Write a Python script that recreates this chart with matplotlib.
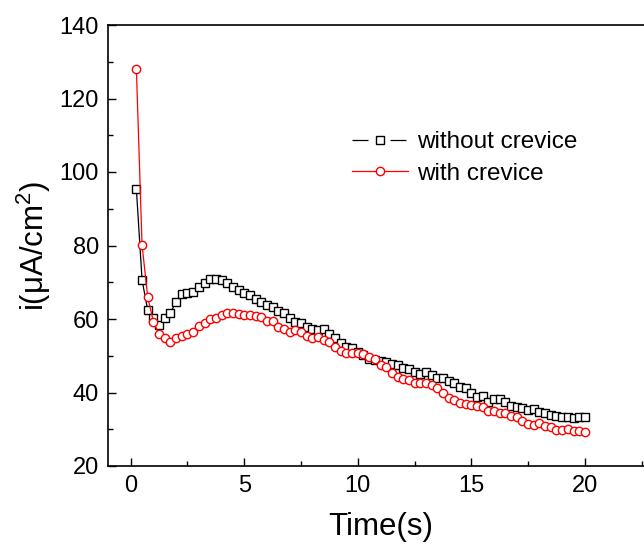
import numpy as np
import matplotlib
matplotlib.use('Agg')
import matplotlib.pyplot as plt
from matplotlib.lines import Line2D
from matplotlib.ticker import MultipleLocator

plt.rcParams['font.family'] = ['Liberation Sans', 'DejaVu Sans']
plt.rcParams['mathtext.fontset'] = 'custom'
plt.rcParams['mathtext.rm'] = 'Liberation Sans'
plt.rcParams['mathtext.it'] = 'Liberation Sans:italic'

# time axis, one reading every 0.25 s
time_s = np.arange(1, 81) * 0.25

without_crevice = [
    95.3, 70.6, 62.4, 60.2, 58.3, 60.2, 61.7, 64.7, 66.8, 67.0,
    67.4, 68.8, 69.9, 71.0, 70.8, 70.6, 69.9, 68.6, 68.0, 67.0,
    66.5, 65.4, 64.7, 63.8, 63.3, 62.2, 61.7, 60.4, 59.3, 58.8,
    57.9, 57.2, 57.0, 57.2, 55.9, 54.7, 53.4, 52.5, 52.0, 51.1,
    50.2, 49.0, 48.8, 48.6, 48.4, 47.7, 47.4, 46.6, 46.3, 45.7,
    45.0, 45.7, 44.8, 44.0, 44.0, 43.2, 42.7, 41.4, 41.1, 40.0,
    38.7, 39.0, 37.5, 38.1, 38.1, 37.5, 36.3, 36.1, 35.7, 35.2,
    35.4, 34.8, 34.5, 33.9, 33.6, 33.2, 33.2, 33.0, 33.4, 33.4,
]

with_crevice = [
    127.9, 80.1, 65.9, 59.3, 55.8, 54.7, 53.8, 54.9, 55.4, 55.8,
    56.5, 58.1, 58.8, 59.9, 60.4, 61.1, 61.7, 61.5, 61.3, 61.0,
    61.1, 60.8, 60.6, 59.5, 59.5, 57.7, 57.2, 56.5, 57.0, 56.5,
    55.4, 54.9, 55.2, 54.3, 53.8, 52.5, 51.4, 50.8, 50.8, 50.8,
    50.4, 49.7, 49.0, 47.5, 47.0, 45.4, 44.3, 43.8, 43.4, 42.7,
    42.5, 42.7, 42.0, 41.1, 39.8, 38.4, 38.0, 37.2, 37.0, 36.6,
    36.3, 36.1, 35.0, 35.0, 34.3, 34.5, 33.6, 33.2, 32.3, 31.4,
    31.2, 31.6, 30.9, 30.7, 29.8, 29.8, 30.2, 29.6, 29.6, 29.3,
]

fig = plt.figure(figsize=(6.44, 5.5), dpi=100)
ax = fig.add_axes([108 / 644, 84 / 550, 545 / 644, 441 / 550])

ax.plot(time_s, without_crevice, color='black', lw=0.9, marker='s',
        ms=5.5, mfc='white', mec='black', mew=1.0)
ax.plot(time_s, with_crevice, color='red', lw=0.9, marker='o',
        ms=6, mfc='white', mec='red', mew=1.0)

ax.set_xlim(-1, 23)
ax.set_ylim(20, 140)
ax.xaxis.set_major_locator(MultipleLocator(5))
ax.xaxis.set_minor_locator(MultipleLocator(2.5))
ax.yaxis.set_major_locator(MultipleLocator(20))
ax.yaxis.set_minor_locator(MultipleLocator(10))
ax.tick_params(which='both', direction='in', top=False, right=False,
               width=1, labelsize=17, pad=6.5)
ax.tick_params(which='major', length=5.5)
ax.tick_params(which='minor', length=3.5)
ax.spines['right'].set_visible(False)
for s in ['left', 'bottom', 'top']:
    ax.spines[s].set_linewidth(1.2)

ax.set_xlabel('Time(s)', fontsize=22.5, labelpad=11)
ax.set_ylabel('i(μA/cm$^2$)', fontsize=22.5, labelpad=5)

# legend handles: black line broken around the marker, red line continuous
black_line = Line2D([], [], color='black', lw=0.9, dashes=(12.8, 17.6))
black_mark = Line2D([], [], ls='none', marker='s', ms=5.5, mfc='white',
                    mec='black', mew=1.0)
red_h = Line2D([], [], color='red', lw=0.9, marker='o', ms=6, mfc='white',
               mec='red', mew=1.0)
ax.legend([(black_line, black_mark), red_h],
          ['without crevice', 'with crevice'],
          loc='upper left', bbox_to_anchor=(352 / 644, 1 - 131 / 550),
          bbox_transform=fig.transFigure, frameon=False, fontsize=17.5,
          handlelength=2.3, handletextpad=0.38, borderpad=0,
          borderaxespad=0, labelspacing=0.4)

fig.savefig('out.png', dpi=100)
